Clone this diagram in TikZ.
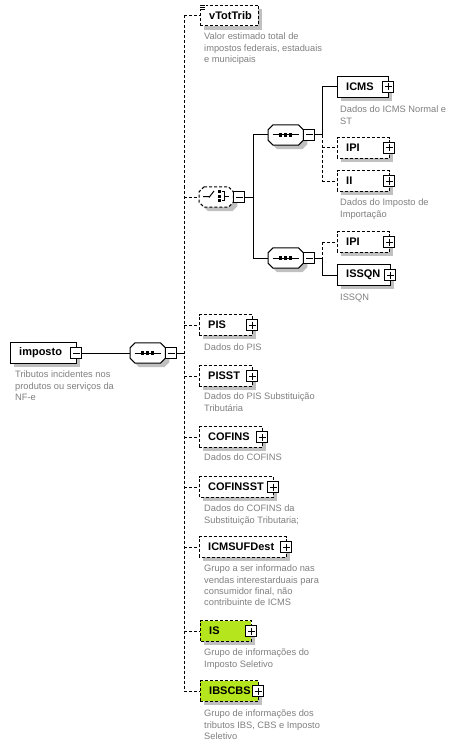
\documentclass[tikz,border=0pt]{standalone}
\usepackage{fontspec}
\setmainfont{Liberation Sans}
\usetikzlibrary{calc}
\definecolor{anncol}{RGB}{128,128,128}
\definecolor{shadowc}{RGB}{192,192,192}
\definecolor{grn}{RGB}{181,230,29}
\tikzset{
  optl/.style={dash pattern=on 3pt off 2pt},
  conn/.style={line width=1pt},
  boxpath/.style={draw, line width=1pt, fill=white},
  lbl/.style={font=\bfseries\fontsize{11}{13}\selectfont, anchor=west, inner sep=0pt},
  ann/.style={font=\fontsize{9.3}{11.3}\selectfont, text=anncol, align=left, anchor=north west, inner sep=0pt},
  btn/.style={draw, fill=white, line width=1pt, minimum size=11pt, inner sep=0pt},
  frame/.style={inner sep=0pt, minimum height=20pt, anchor=west},
  seqframe/.style={inner sep=0pt, minimum height=20pt, minimum width=35pt, anchor=west},
}
\newcommand\ebox[6]{%
  \node[frame, minimum width=#4pt] (#1) at (#2,#3) {};
  \fill[shadowc, transform canvas={shift={(4pt,-4pt)}}] (#1.south west) rectangle (#1.north east);
  \draw[boxpath,#6] (#1.south west) rectangle (#1.north east);
  \node[lbl] (#1-t) at ($(#1.west)+(9,0)$) {#5};
}
\newcommand\pbtn[1]{%
  \node[btn] (#1-b) at (#1.east) {};
  \draw[line width=1pt] ($(#1-b.center)+(-3.5,0)$) -- ($(#1-b.center)+(3.5,0)$)
    ($(#1-b.center)+(0,-3.5)$) -- ($(#1-b.center)+(0,3.5)$);
}
\newcommand\octo[2]{%
  \draw[#2] ([xshift=5pt]#1.north west) -- ([xshift=-5pt]#1.north east) -- ([yshift=-5pt]#1.north east)
   -- ([yshift=5pt]#1.south east) -- ([xshift=-5pt]#1.south east) -- ([xshift=5pt]#1.south west)
   -- ([yshift=5pt]#1.south west) -- ([yshift=-5pt]#1.north west) -- cycle;
}
\newcommand\seqnode[3]{% name, x, y
  \node[seqframe] (#1) at (#2,#3) {};
  \octo{#1}{fill=shadowc, draw=none, transform canvas={shift={(4pt,-4pt)}}}
  \octo{#1}{fill=white, line width=1pt}
  \draw[line width=1pt] ($(#1.center)+(-13,0)$) -- ($(#1.center)+(13,0)$);
  \foreach \dx in {-5,0,5} {\fill ($(#1.center)+(\dx-1.6,-1.6)$) rectangle ($(#1.center)+(\dx+1.6,1.6)$);}
  \node[btn, anchor=west] (#1-b) at (#1.east) {};
  \draw[line width=1pt] ($(#1-b.center)+(-3.5,0)$) -- ($(#1-b.center)+(3.5,0)$);
}
\begin{document}
\begin{tikzpicture}[x=1pt,y=-1pt]
\useasboundingbox[fill=white] (0,0) rectangle (463,746);

% main vertical
\coordinate (vtop) at (184,15.5);
\coordinate (vbot) at (184,691);
\draw[conn,optl] (vtop) -- (vbot);

% imposto
\ebox{imposto}{10}{353}{66}{imposto}{}
\node[btn] (imposto-b) at (imposto.east) {};
\draw[line width=1pt] ($(imposto-b.center)+(-3.5,0)$) -- ($(imposto-b.center)+(3.5,0)$);
\node[ann] (imposto-a) at (15,371) {Tributos incidentes nos\\produtos ou serviços da\\NF-e};

% main sequence
\seqnode{seq0}{130}{353}
\draw[conn] (imposto-b.east) -- (seq0.west);
\draw[conn] (seq0-b.east) -- (vtop |- seq0-b.east);

% vTotTrib
\ebox{vTotTrib}{200}{15.5}{58}{vTotTrib}{optl}
\fill[white] (199.5,3.5) rectangle (206,10);
\draw[line width=0.8pt] (200,5) -- (205,5) (200,7) -- (205,7) (200,9) -- (205,9);
\draw[conn,optl] (vtop) -- (vTotTrib.west);
\node[ann] (vTotTrib-a) at (204,33) {Valor estimado total de\\impostos federais, estaduais\\e municipais};

% choice
\node[seqframe, minimum width=34pt] (choice) at (199,197) {};
\octo{choice}{fill=shadowc, draw=none, transform canvas={shift={(4pt,-4pt)}}}
\octo{choice}{fill=white, line width=1pt, optl}
\draw[line width=1pt] (203,196.5) -- (209,196.5) (209,197.5) -- (214,191);
\foreach \yy in {191.5,196,200.5} {\fill (217.8,\yy-1.5) rectangle (220.8,\yy+1.5);}
\draw[line width=1pt] (221.5,191.5) -- (224,191.5) -- (224,200.5) -- (221.5,200.5) (224,196) -- (228.5,196);
\node[btn, anchor=west] (choice-b) at (choice.east) {};
\draw[line width=1pt] ($(choice-b.center)+(-3.5,0)$) -- ($(choice-b.center)+(3.5,0)$);
\draw[conn,optl] (vtop |- choice.west) -- (choice.west);

\coordinate (v1a) at (253,135);
\coordinate (v1b) at (253,258);
\draw[conn] (v1a) -- (v1b);
\draw[conn] (choice-b.east) -- (v1a |- choice-b.east);

% sequence 1
\seqnode{seq1}{268}{135}
\draw[conn] (v1a) -- (seq1.west);
\coordinate (c2top) at (322,87);
\coordinate (c2m) at (322,135);
\coordinate (c2bot) at (322,181);
\draw[conn] (seq1-b.east) -- (c2m);
\draw[conn] (c2top) -- (c2m);
\draw[conn,optl] (c2m) -- (c2bot);

\ebox{ICMS}{337}{87}{51}{ICMS}{}
\pbtn{ICMS}
\draw[conn] (c2top) -- (ICMS.west);
\node[ann] (ICMS-a) at (340,106) {Dados do ICMS Normal e\\ST};

\ebox{IPIa}{337}{148}{52}{IPI}{optl}
\pbtn{IPIa}
\draw[conn,optl] (c2top |- IPIa.west) -- (IPIa.west);

\ebox{II}{337}{181}{52}{II}{optl}
\pbtn{II}
\draw[conn,optl] (c2bot) -- (II.west);
\node[ann] (II-a) at (340,199) {Dados do Imposto de\\Importação};

% sequence 2
\seqnode{seq2}{268}{258}
\draw[conn] (v1b) -- (seq2.west);
\coordinate (c3top) at (322,242);
\coordinate (c3m) at (322,258);
\coordinate (c3bot) at (322,275);
\draw[conn] (seq2-b.east) -- (c3m);
\draw[conn,optl] (c3top) -- (c3m);
\draw[conn] (c3m) -- (c3bot);

\ebox{IPIb}{337}{242}{52}{IPI}{optl}
\pbtn{IPIb}
\draw[conn,optl] (c3top) -- (IPIb.west);

\ebox{ISSQN}{337}{275}{53}{ISSQN}{}
\pbtn{ISSQN}
\draw[conn] (c3bot) -- (ISSQN.west);
\node[ann] (ISSQN-a) at (340,294) {ISSQN};

% main children
\ebox{PIS}{199}{325}{53}{PIS}{optl}
\pbtn{PIS}
\draw[conn,optl] (vtop |- PIS.west) -- (PIS.west);
\node[ann] (PIS-a) at (204,344) {Dados do PIS};

\ebox{PISST}{199}{376}{53}{PISST}{optl}
\pbtn{PISST}
\draw[conn,optl] (vtop |- PISST.west) -- (PISST.west);
\node[ann] (PISST-a) at (204,393) {Dados do PIS Substituição\\Tributária};

\ebox{COFINS}{199}{437}{63}{COFINS}{optl}
\pbtn{COFINS}
\draw[conn,optl] (vtop |- COFINS.west) -- (COFINS.west);
\node[ann] (COFINS-a) at (204,454) {Dados do COFINS};

\ebox{COFINSST}{199}{487}{74}{COFINSST}{optl}
\pbtn{COFINSST}
\draw[conn,optl] (vtop |- COFINSST.west) -- (COFINSST.west);
\node[ann] (COFINSST-a) at (204,505) {Dados do COFINS da\\Substituição Tributaria;};

\ebox{ICMSUFDest}{199}{547}{87}{ICMSUFDest}{optl}
\pbtn{ICMSUFDest}
\draw[conn,optl] (vtop |- ICMSUFDest.west) -- (ICMSUFDest.west);
\node[ann] (ICMSUFDest-a) at (204,565) {Grupo a ser informado nas\\vendas interestarduais para\\consumidor final, não\\contribuinte de ICMS};

\ebox{IS}{200}{631}{51}{IS}{optl,fill=grn}
\pbtn{IS}
\draw[conn,optl] (vtop |- IS.west) -- (IS.west);
\node[ann] (IS-a) at (204,649) {Grupo de informações do\\Imposto Seletivo};

\ebox{IBSCBS}{200}{691}{58}{IBSCBS}{optl,fill=grn}
\pbtn{IBSCBS}
\draw[conn,optl] (vbot) -- (IBSCBS.west);
\node[ann] (IBSCBS-a) at (204,710) {Grupo de informações dos\\tributos IBS, CBS e Imposto\\Seletivo};
\end{tikzpicture}
\end{document}
